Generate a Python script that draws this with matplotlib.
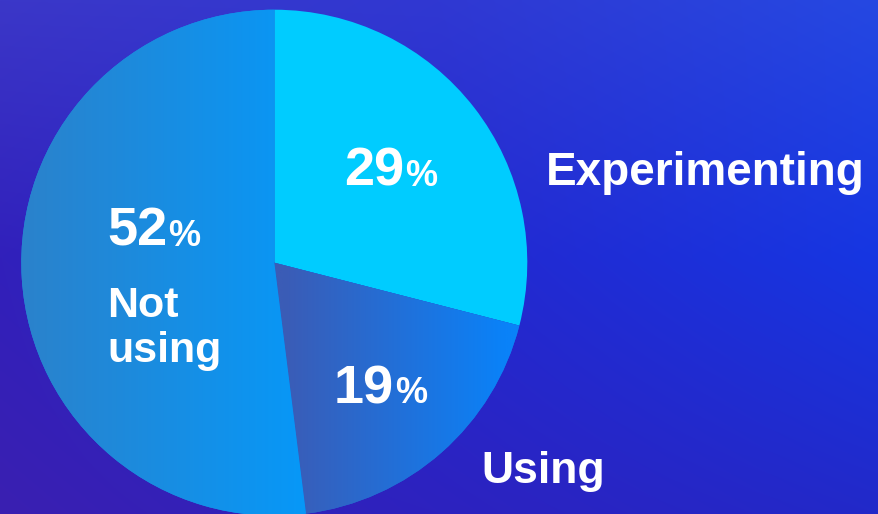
import numpy as np
import matplotlib.pyplot as plt
from matplotlib.colors import to_rgb

# survey shares, clockwise from the top
labels = ['Experimenting', 'Using', 'Not using']
shares = [29, 19, 52]
pct_text = ['29', '19', '52']

W, H = 879, 514
cx, cy, R = 274.3, H - 262.7, 253.0

plt.rcParams['font.family'] = ['Liberation Sans', 'DejaVu Sans']

fig = plt.figure(figsize=(W / 100, H / 100), dpi=100)
ax = fig.add_axes([0, 0, 1, 1])


def grid_gradient(colors, nx, ny):
    # bilinear blend of a small grid of colours (rows top->bottom)
    g = np.array([[to_rgb(c) for c in row] for row in colors])
    rows, cols = g.shape[:2]
    xs = np.linspace(0, cols - 1, nx)
    ys = np.linspace(0, rows - 1, ny)
    tmp = np.stack([np.stack([np.interp(xs, np.arange(cols), g[r, :, k])
                              for k in range(3)], -1) for r in range(rows)])
    out = np.stack([np.stack([np.interp(ys, np.arange(rows), tmp[:, i, k])
                              for k in range(3)], -1) for i in range(nx)], 1)
    return out


# background
bg = grid_gradient([['#3b37c8', '#3038d2', '#2548e2'],
                    ['#3120bb', '#2428cf', '#1636e2'],
                    ['#3a1fb1', '#2d22bf', '#2229c9']], 300, 200)
ax.imshow(bg, extent=(0, W, 0, H), origin='upper', aspect='auto',
          interpolation='bilinear', zorder=0)

wedges, _ = ax.pie(shares, center=(cx, cy), radius=R, startangle=90,
                   counterclock=False, wedgeprops=dict(linewidth=0))

# horizontal gradients per slice: (x from, x to, colour from, colour to)
fills = [
    None,
    (285, 505, '#3b5cb6', '#0a82f8'),
    (21, 320, '#2b82cb', '#0599fa'),
]
solid = ['#00ccff', '#1f6fd8', '#1a8ee6']

for w, f, c in zip(wedges, fills, solid):
    w.set_facecolor(c)
    w.set_zorder(2)
    if f is None:
        continue
    x0, x1, c0, c1 = f
    xs = np.linspace(cx - R, cx + R, 400)
    t = np.clip((xs - x0) / (x1 - x0), 0, 1)[:, None]
    row = (1 - t) * np.array(to_rgb(c0)) + t * np.array(to_rgb(c1))
    img = np.repeat(row[None, :, :], 4, axis=0)
    im = ax.imshow(img, extent=(cx - R, cx + R, cy - R, cy + R),
                   origin='lower', aspect='auto', interpolation='bilinear',
                   zorder=3)
    im.set_clip_path(w)

txt = dict(color='white', fontweight='bold', zorder=5)


def pct_label(x, y, num):
    t = ax.text(x, H - y, num, fontsize=39, ha='left', va='baseline', **txt)
    ax.annotate('%', xy=(1, H - y), xycoords=(t, 'data'),
                xytext=(1, 0), textcoords='offset pixels',
                fontsize=26, ha='left', va='baseline', **txt)


pct_label(344, 186, pct_text[0])
pct_label(334, 403, pct_text[1])
pct_label(107, 246, pct_text[2])

ax.text(546, H - 185, labels[0], fontsize=33, ha='left', va='baseline', **txt)
ax.text(481, H - 483, labels[1], fontsize=32, ha='left', va='baseline', **txt)
ax.text(107, H - 317, 'Not', fontsize=31, ha='left', va='baseline', **txt)
ax.text(107, H - 362, 'using', fontsize=31, ha='left', va='baseline', **txt)

ax.set_xlim(0, W)
ax.set_ylim(0, H)
ax.set_aspect('auto')
ax.axis('off')

fig.savefig('out.png', dpi=100)
